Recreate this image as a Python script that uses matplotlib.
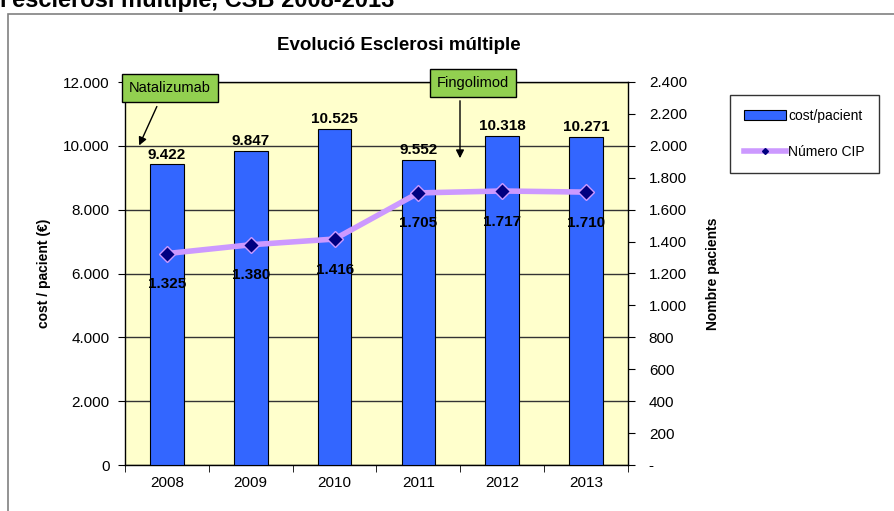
import matplotlib.pyplot as plt
import matplotlib.patches as mpatches
from matplotlib.lines import Line2D
from matplotlib.ticker import FuncFormatter, MultipleLocator
import numpy as np

plt.rcParams['font.family'] = ['Liberation Sans', 'DejaVu Sans']

# Data
years = ['2008', '2009', '2010', '2011', '2012', '2013']
cost_per_patient = [9422, 9847, 10525, 9552, 10318, 10271]
num_patients = [1325, 1380, 1416, 1705, 1717, 1710]


def dotted(v):
    return f"{int(v):,}".replace(",", ".")


fig = plt.figure(figsize=(8.95, 5.11), dpi=100)

# outer frame of the chart object
frame = mpatches.Rectangle((8 / 895, -0.1), 1.2, 1.1 - 14 / 511,
                           transform=fig.transFigure, fill=False,
                           edgecolor='#808080', lw=1.2, clip_on=False)
fig.patches.append(frame)

fig.text(0.0, 1.022, "l'esclerosi múltiple, CSB 2008-2013", fontsize=17,
         fontweight='bold', ha='left', va='top')

ax = fig.add_axes([125 / 895, 1 - 465 / 511, 503 / 895, 383 / 511])
ax.set_facecolor('#FFFFCC')
x = np.arange(len(years))

ax.bar(x, cost_per_patient, width=0.4, color='#3366FF',
       edgecolor='black', linewidth=0.8, zorder=3)
ax.set_xlim(-0.5, len(years) - 0.5)
ax.set_ylim(0, 12000)
ax.yaxis.set_major_locator(MultipleLocator(2000))
ax.yaxis.set_major_formatter(FuncFormatter(lambda v, p: dotted(v)))
ax.grid(axis='y', color='#333333', lw=1, zorder=1)
ax.set_xticks(x)
ax.set_xticklabels(years)
ax.set_xticks(np.arange(-0.5, len(years), 1), minor=True)
ax.tick_params(axis='x', which='major', length=0, pad=8, labelsize=11)
ax.tick_params(axis='x', which='minor', length=5, direction='out')
ax.tick_params(axis='y', length=5, direction='out', labelsize=11, pad=6)
for s in ax.spines.values():
    s.set_color('black')
    s.set_linewidth(1)
ax.set_ylabel('cost / pacient (€)', fontsize=10, fontweight='bold', labelpad=9)

for xi, v in zip(x, cost_per_patient):
    ax.annotate(dotted(v), (xi, v), xytext=(0, 2), textcoords='offset points',
                ha='center', va='bottom', fontsize=11, fontweight='bold', zorder=6)

# patients on the secondary axis
ax2 = ax.twinx()
ax2.set_ylim(0, 2400)
ax2.yaxis.set_major_locator(MultipleLocator(200))
ax2.yaxis.set_major_formatter(FuncFormatter(lambda v, p: '-' if v == 0 else dotted(v)))
ax2.tick_params(axis='y', length=5, direction='out', labelsize=11, pad=10)
for s in ax2.spines.values():
    s.set_visible(False)
ax2.plot(x, num_patients, color='#CC99FF', lw=4, marker='D', markersize=8,
         markerfacecolor='#000080', markeredgecolor='#CC99FF',
         markeredgewidth=1, zorder=4)
ax2.set_ylabel('Nombre pacients', fontsize=10, fontweight='bold', labelpad=14)
for xi, v in zip(x, num_patients):
    ax2.annotate(dotted(v), (xi, v), xytext=(0, -22), textcoords='offset points',
                 ha='center', va='center', fontsize=11, fontweight='bold', zorder=6)

fig.text(399 / 895, 1 - 46 / 511, 'Evolució Esclerosi múltiple', fontsize=13.5,
         fontweight='bold', ha='center', va='center')

# treatment annotations
box = dict(boxstyle='square,pad=0.5', facecolor='#92D050', edgecolor='black', lw=1)
fig.text(170 / 895, 1 - 88 / 511, 'Natalizumab', fontsize=10.5, ha='center',
         va='center', bbox=box, zorder=10)
fig.text(473 / 895, 1 - 83 / 511, 'Fingolimod', fontsize=10.5, ha='center',
         va='center', bbox=box, zorder=10)
arrow = dict(arrowstyle='-|>', color='black', lw=1, mutation_scale=12)
fig.add_artist(mpatches.FancyArrowPatch((158 / 895, 1 - 104 / 511), (138 / 895, 1 - 148 / 511),
                                        transform=fig.transFigure, **arrow))
fig.add_artist(mpatches.FancyArrowPatch((460 / 895, 1 - 98 / 511), (460 / 895, 1 - 161 / 511),
                                        transform=fig.transFigure, **arrow))

handles = [mpatches.Patch(facecolor='#3366FF', edgecolor='black', lw=0.8),
           Line2D([], [], color='#CC99FF', lw=4, marker='D', markersize=3,
                  markerfacecolor='#000080', markeredgecolor='#000080')]
fig.legend(handles, ['cost/pacient', 'Número CIP'], loc='upper left',
           bbox_to_anchor=(730 / 895, 1 - 95 / 511), fontsize=10, frameon=True,
           fancybox=False, edgecolor='black', labelspacing=1.6, borderpad=1.0,
           handlelength=3.0, handleheight=0.7, handletextpad=0.2, borderaxespad=0)

fig.savefig('out.png', dpi=100)
